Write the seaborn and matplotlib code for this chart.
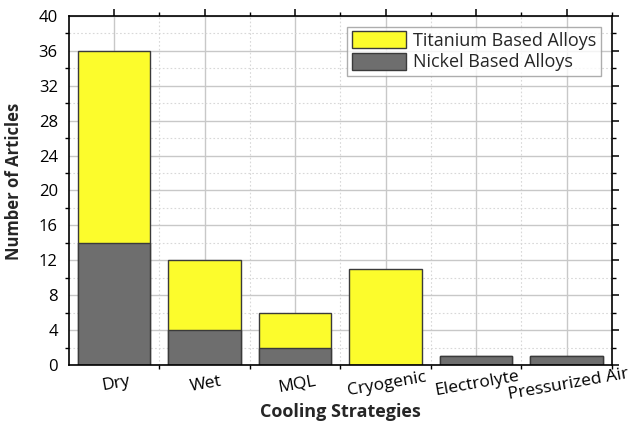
import numpy as np
import pandas as pd
import seaborn as sns
import matplotlib.pyplot as plt
from matplotlib.ticker import MultipleLocator
from matplotlib.patches import Patch

strategies = ["Dry", "Wet", "MQL", "Cryogenic", "Electrolyte", "Pressurized Air"]
nickel = [14, 4, 2, 0, 1, 1]
titanium = [22, 8, 4, 11, 0, 0]

YELLOW = "#FCFC2C"
GRAY = "#6E6E6E"
EDGE = "#3a3a3a"

df = pd.DataFrame({"strategy": strategies, "nickel": nickel, "titanium": titanium})
df["total"] = df["nickel"] + df["titanium"]

sns.set_theme(style="white")
plt.rcParams["font.family"] = ["Open Sans", "DejaVu Sans"]

fig, ax = plt.subplots(figsize=(6.32, 4.29), dpi=100)
fig.subplots_adjust(left=0.109, right=0.968, top=0.963, bottom=0.149)

# grid first
ax.set_axisbelow(True)
sns.barplot(data=df, x="strategy", y="total", color=YELLOW, width=0.8,
            edgecolor=EDGE, linewidth=1.0, saturation=1, ax=ax)
sns.barplot(data=df, x="strategy", y="nickel", color=GRAY, width=0.8,
            edgecolor=EDGE, linewidth=1.0, saturation=1, ax=ax)

ax.set_xlim(-0.5, 5.5)
ax.set_ylim(0, 40)
ax.yaxis.set_major_locator(MultipleLocator(4))
ax.yaxis.set_minor_locator(MultipleLocator(2))
ax.set_xticks(np.arange(len(strategies)))
ax.set_xticks(np.arange(len(strategies)) + 0.5, minor=True)

ax.grid(which="major", color="#c8c8c8", linewidth=1.0, linestyle="-")
ax.grid(which="minor", color="#d8d8d8", linewidth=0.8, linestyle=(0, (1.5, 2)))

for s in ax.spines.values():
    s.set_visible(True)
    s.set_color("black")
    s.set_linewidth(1.2)

ax.tick_params(which="major", direction="out", length=5, width=1.1, color="black",
               top=True, right=True, labelsize=12, labelcolor="black", pad=3)
ax.tick_params(which="minor", direction="out", length=3, width=1.0, color="black",
               top=True, right=True, bottom=True, left=True)
ax.set_xticklabels(strategies, rotation=10, fontsize=12.5)
for lab in ax.get_xticklabels():
    lab.set_ha("center")
    lab.set_rotation_mode("anchor")
    lab.set_va("top")

ax.set_xlabel("Cooling Strategies", fontsize=13, fontweight="bold")
ax.xaxis.set_label_coords(0.5, -0.108)
ax.set_ylabel("Number of Articles", fontsize=12, fontweight="bold")
ax.yaxis.set_label_coords(-0.084, 0.526)

handles = [Patch(facecolor=YELLOW, edgecolor=EDGE, label="Titanium Based Alloys"),
           Patch(facecolor=GRAY, edgecolor=EDGE, label="Nickel Based Alloys")]
leg = ax.legend(handles=handles, loc="upper right", fontsize=13, frameon=True,
                fancybox=False, edgecolor="#999999", handlelength=3.0, handleheight=1.1,
                borderaxespad=0.3, handletextpad=0.4, labelspacing=0.15,
                borderpad=0.25, bbox_to_anchor=(0.99, 0.985))
leg.get_frame().set_linewidth(1.0)

fig.savefig("out.png", dpi=100, facecolor="white")
